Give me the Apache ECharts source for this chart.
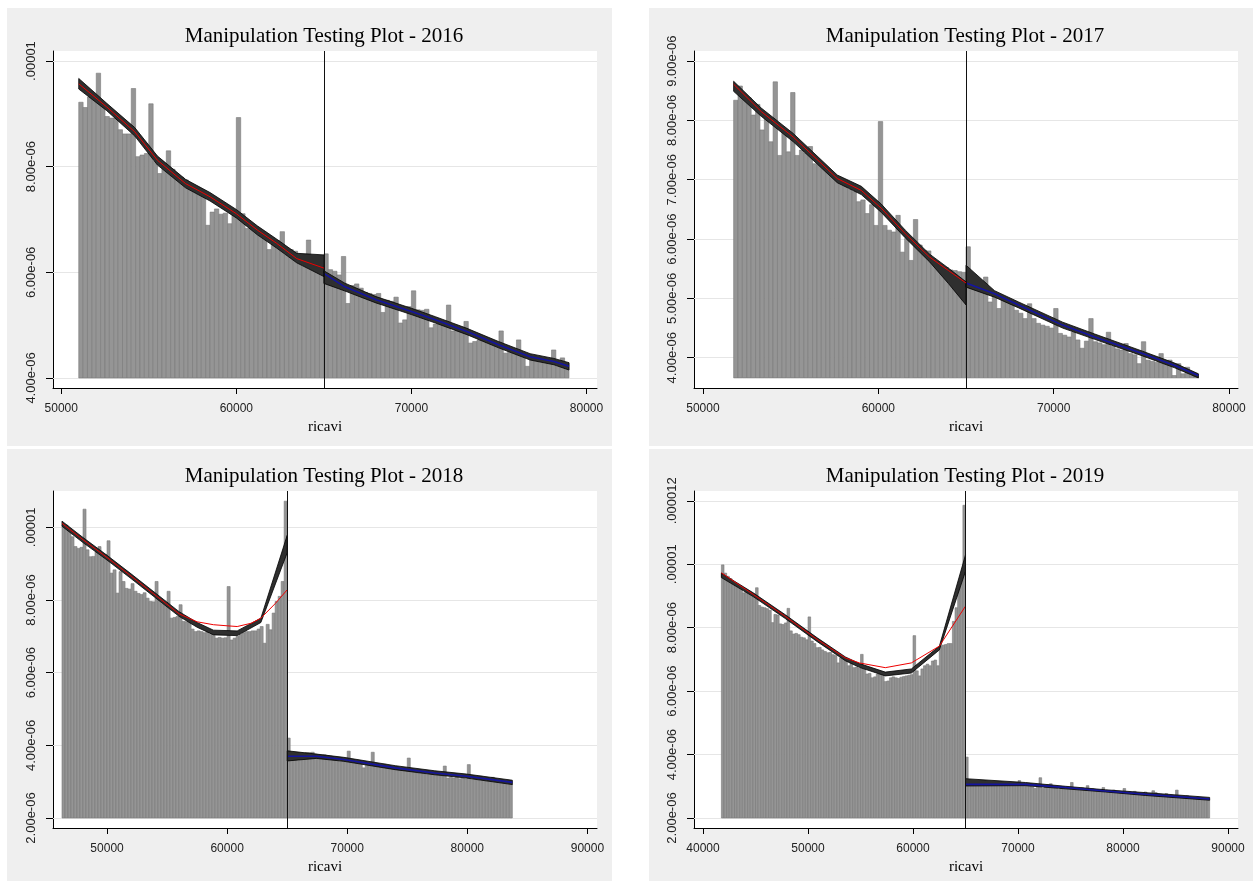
<!DOCTYPE html>
<html>
<head>
<meta charset="utf-8">
<script src="https://cdn.jsdelivr.net/npm/echarts@6/dist/echarts.min.js"></script>
<style>
  body { margin: 0; background: #fff; width: 1253px; height: 881px; position: relative; overflow: hidden; }
  .panel { position: absolute; }
</style>
</head>
<body>
<div id="p2016" class="panel" style="left:7px;top:8px;width:605px;height:438px"></div>
<div id="p2017" class="panel" style="left:649px;top:8px;width:604px;height:438px"></div>
<div id="p2018" class="panel" style="left:7px;top:449px;width:605px;height:432px"></div>
<div id="p2019" class="panel" style="left:649px;top:449px;width:604px;height:432px"></div>
<script>
// densities are in units of 1e-06
var binWidth = 250;
var cutoff = 65000;

// ---- 2016 ----
var hist2016Start = 51000;
var hist2016 = [9.22, 9.12, 9.32, 9.30, 9.77, 9.20, 8.95, 8.92, 8.92, 8.70,
  8.62, 8.62, 9.48, 8.19, 8.22, 8.25, 9.19, 8.10, 7.87, 8.05,
  8.30, 7.95, 7.85, 7.80, 7.75, 7.62, 7.62, 7.55, 7.55, 6.89,
  7.14, 7.20, 7.10, 7.12, 6.92, 7.11, 8.93, 7.11, 6.83, 6.85,
  6.74, 6.76, 6.72, 6.43, 6.61, 6.60, 6.77, 6.33, 6.43, 6.40,
  6.24, 6.11, 6.61, 6.15, 6.18, 6.12,
  6.35, 6.05, 6.02, 5.95, 6.30, 5.41, 5.75, 5.78, 5.70, 5.62,
  5.60, 5.58, 5.60, 5.24, 5.47, 5.45, 5.53, 5.04, 5.10, 5.35,
  5.65, 5.29, 5.28, 5.30, 4.95, 5.02, 5.03, 5.00, 5.38, 4.89,
  4.95, 4.96, 5.07, 4.66, 4.69, 4.72, 4.74, 4.70, 4.71, 4.65,
  4.89, 4.47, 4.50, 4.50, 4.72, 4.44, 4.22, 4.35, 4.36, 4.33,
  4.34, 4.30, 4.53, 4.22, 4.38, 4.28];
var fitL2016X = [51000, 52600, 54200, 55500, 57100, 58500, 60000, 61200, 62300, 63450, 65000];
var fitL2016 = [9.57, 9.13, 8.66, 8.12, 7.68, 7.43, 7.11, 6.80, 6.55, 6.26, 6.08];
var ciL2016Lo = [9.47, 9.06, 8.58, 8.03, 7.60, 7.35, 7.03, 6.71, 6.46, 6.18, 5.92];
var ciL2016Hi = [9.67, 9.20, 8.74, 8.20, 7.76, 7.51, 7.19, 6.88, 6.63, 6.36, 6.33];
var fitR2016X = [65000, 66170, 67980, 70000, 71370, 73170, 74980, 76780, 78140, 79000];
var fitR2016 = [5.98, 5.73, 5.48, 5.26, 5.10, 4.88, 4.63, 4.40, 4.31, 4.22];
var ciR2016Lo = [5.79, 5.65, 5.42, 5.20, 5.04, 4.82, 4.57, 4.34, 4.25, 4.15];
var ciR2016Hi = [6.03, 5.80, 5.54, 5.32, 5.16, 4.94, 4.69, 4.46, 4.37, 4.29];
var yTicks2016 = [4, 6, 8, 10];
var yLabels2016 = ['4.00e-06', '6.00e-06', '8.00e-06', '.00001'];
var xTicks2016 = [50000, 60000, 70000, 80000];

// ---- 2017 ----
var hist2017Start = 51750;
var hist2017 = [8.34, 8.58, 8.40, 8.38, 8.09, 8.27, 7.84, 8.09, 7.64, 8.65,
  7.41, 7.87, 7.47, 8.47, 7.41, 7.50, 7.45, 7.56, 7.27, 7.25,
  7.19, 7.15, 7.11, 7.05, 6.96, 6.90, 6.84, 6.80, 6.63, 6.66,
  6.43, 6.58, 6.23, 7.98, 6.23, 6.15, 6.12, 6.40, 5.78, 6.01,
  5.64, 6.33, 5.90, 5.81, 5.80, 5.65, 5.55, 5.53, 5.52, 5.48,
  5.47, 5.45, 5.44,
  5.87, 5.25, 5.22, 5.20, 5.36, 4.94, 5.06, 4.83, 5.03, 5.00,
  4.96, 4.80, 4.75, 4.66, 4.91, 4.66, 4.58, 4.55, 4.53, 4.50,
  4.83, 4.41, 4.38, 4.35, 4.43, 4.30, 4.16, 4.28, 4.66, 4.27,
  4.25, 4.22, 4.43, 4.19, 4.15, 4.13, 4.24, 4.07, 4.05, 3.90,
  4.27, 3.96, 3.94, 3.92, 4.07, 3.90, 3.96, 3.70, 3.90, 3.73,
  3.84, 3.70, 3.72];
var fitL2017X = [51750, 53320, 55150, 57660, 59030, 60170, 61540, 62910, 64000, 65000];
var fitL2017 = [8.61, 8.15, 7.72, 7.02, 6.82, 6.52, 6.09, 5.70, 5.47, 5.26];
var ciL2017Lo = [8.49, 8.07, 7.64, 6.95, 6.75, 6.45, 6.02, 5.62, 5.25, 4.89];
var ciL2017Hi = [8.66, 8.21, 7.78, 7.08, 6.89, 6.59, 6.15, 5.75, 5.51, 5.28];
var fitR2017X = [65000, 66630, 68000, 70510, 72340, 75070, 76900, 78250];
var fitR2017 = [5.26, 5.08, 4.89, 4.55, 4.35, 4.07, 3.87, 3.70];
var ciR2017Lo = [5.19, 5.02, 4.84, 4.50, 4.31, 4.03, 3.83, 3.66];
var ciR2017Hi = [5.56, 5.13, 4.94, 4.60, 4.40, 4.11, 3.91, 3.73];
var yTicks2017 = [4, 5, 6, 7, 8, 9];
var yLabels2017 = ['4.00e-06', '5.00e-06', '6.00e-06', '7.00e-06', '8.00e-06', '9.00e-06'];
var xTicks2017 = [50000, 60000, 70000, 80000];

// ---- 2018 ----
var hist2018Start = 46250;
var hist2018 = [10.06, 10.06, 9.95, 9.74, 9.47, 9.42, 9.45, 10.50, 9.38, 9.19,
  9.20, 9.33, 9.47, 9.24, 9.25, 9.63, 8.74, 8.83, 8.19, 8.78,
  8.51, 8.32, 8.30, 8.45, 8.24, 8.18, 8.15, 8.20, 8.05, 7.96,
  7.95, 8.51, 8.00, 7.90, 7.85, 8.24, 7.50, 7.52, 7.55, 7.87,
  7.41, 7.40, 7.38, 7.20, 7.13, 7.15, 7.13, 7.10, 7.13, 7.05,
  7.02, 6.95, 6.97, 6.95, 6.96, 8.37, 6.90, 6.95, 7.00, 7.05,
  7.10, 7.13, 7.13, 7.15, 7.15, 7.20, 7.27, 6.81, 7.33, 7.18,
  7.64, 7.96, 8.10, 8.51, 10.72,
  4.20, 3.76, 3.72, 3.58, 3.78, 3.75, 3.80, 3.80, 3.81, 3.76,
  3.74, 3.73, 3.74, 3.72, 3.70, 3.60, 3.65, 3.56, 3.58, 3.60,
  3.84, 3.56, 3.55, 3.55, 3.57, 3.38, 3.52, 3.50, 3.81, 3.47,
  3.46, 3.45, 3.48, 3.42, 3.40, 3.40, 3.42, 3.38, 3.37, 3.35,
  3.65, 3.29, 3.30, 3.24, 3.30, 3.22, 3.20, 3.20, 3.22, 3.18,
  3.17, 3.16, 3.43, 3.10, 3.12, 3.10, 3.14, 3.08, 3.10, 3.08,
  3.47, 3.06, 3.08, 3.05, 3.15, 3.04, 3.02, 3.03, 3.12, 3.00,
  3.00, 2.98, 2.98, 2.95, 2.93];
var fitL2018X = [46250, 48000, 50000, 52000, 54000, 56000, 57500, 58860, 60000, 60840, 62000, 62810, 64000, 65000];
var fitL2018 = [10.11, 9.66, 9.17, 8.66, 8.14, 7.62, 7.40, 7.32, 7.29, 7.27, 7.36, 7.50, 7.90, 8.28];
var ciL2018X = [46250, 48000, 50000, 52000, 54000, 56000, 57500, 58860, 60840, 62810, 65000];
var ciL2018Lo = [10.03, 9.58, 9.10, 8.59, 8.07, 7.55, 7.25, 7.04, 7.02, 7.38, 9.30];
var ciL2018Hi = [10.17, 9.72, 9.23, 8.72, 8.20, 7.68, 7.38, 7.17, 7.15, 7.50, 9.78];
var fitR2018X = [65000, 67420, 69720, 74000, 77290, 79930, 83750];
var fitR2018 = [3.70, 3.70, 3.61, 3.38, 3.24, 3.15, 2.98];
var ciR2018Lo = [3.57, 3.64, 3.56, 3.33, 3.19, 3.10, 2.92];
var ciR2018Hi = [3.85, 3.76, 3.67, 3.44, 3.30, 3.21, 3.04];
var yTicks2018 = [2, 4, 6, 8, 10];
var yLabels2018 = ['2.00e-06', '4.00e-06', '6.00e-06', '8.00e-06', '.00001'];
var xTicks2018 = [50000, 60000, 70000, 80000, 90000];

// ---- 2019 ----
var hist2019Start = 41750;
var hist2019 = [9.98, 9.72, 9.62, 9.55, 9.45, 9.40, 9.33, 9.28, 9.10, 9.15,
  9.12, 9.05, 9.05, 9.26, 8.70, 8.65, 8.63, 8.60, 8.55, 8.16,
  8.42, 8.40, 8.12, 8.10, 8.15, 8.61, 7.90, 7.80, 7.82, 7.78,
  7.70, 7.68, 7.62, 8.34, 7.58, 7.50, 7.37, 7.38, 7.30, 7.25,
  7.21, 7.22, 7.15, 7.12, 6.89, 7.05, 7.05, 7.02, 6.80, 6.95,
  6.74, 6.76, 6.72, 7.16, 6.70, 6.54, 6.56, 6.42, 6.45, 6.54,
  6.55, 6.50, 6.30, 6.32, 6.42, 6.45, 6.42, 6.40, 6.44, 6.46,
  6.48, 6.50, 6.52, 7.75, 6.64, 6.48, 6.70, 6.80, 6.85, 6.80,
  6.95, 6.98, 6.80, 7.42, 7.45, 7.47, 7.50, 7.50, 8.20, 8.63,
  9.30, 9.65, 11.86,
  3.92, 3.10, 3.12, 3.10, 3.12, 3.08, 3.10, 3.08, 3.10, 3.07,
  3.09, 3.06, 3.10, 3.05, 3.07, 3.05, 3.08, 3.05, 3.06, 3.04,
  3.18, 3.04, 3.05, 3.02, 3.06, 2.98, 2.93, 3.00, 3.27, 2.93,
  3.00, 3.05, 3.08, 2.96, 2.98, 2.90, 2.97, 2.96, 2.95, 2.94,
  3.12, 2.94, 2.93, 2.92, 2.95, 2.90, 3.02, 2.90, 2.92, 2.89,
  2.88, 2.87, 2.96, 2.86, 2.86, 2.85, 2.88, 2.84, 2.84, 2.83,
  2.93, 2.82, 2.82, 2.81, 2.84, 2.80, 2.79, 2.79, 2.82, 2.78,
  2.78, 2.86, 2.80, 2.76, 2.75, 2.74, 2.77, 2.72, 2.72, 2.71,
  2.88, 2.70, 2.69, 2.66, 2.70, 2.66, 2.65, 2.64, 2.66, 2.64,
  2.62, 2.62, 2.61];
var fitL2019X = [41750, 44780, 47830, 50880, 53550, 54890, 57360, 59840, 62510, 65000];
var fitL2019 = [9.73, 9.05, 8.36, 7.63, 7.05, 6.89, 6.74, 6.89, 7.42, 8.68];
var ciL2019Lo = [9.58, 8.98, 8.29, 7.56, 6.96, 6.75, 6.48, 6.57, 7.30, 9.78];
var ciL2019Hi = [9.72, 9.10, 8.41, 7.68, 7.08, 6.87, 6.60, 6.70, 7.42, 10.30];
var fitR2019X = [65000, 70710, 74520, 78340, 82150, 88250];
var fitR2019 = [3.06, 3.06, 2.96, 2.85, 2.75, 2.60];
var ciR2019Lo = [3.01, 3.02, 2.92, 2.82, 2.71, 2.56];
var ciR2019Hi = [3.24, 3.12, 3.00, 2.89, 2.80, 2.65];
var yTicks2019 = [2, 4, 6, 8, 10, 12];
var yLabels2019 = ['2.00e-06', '4.00e-06', '6.00e-06', '8.00e-06', '.00001', '.000012'];
var xTicks2019 = [40000, 50000, 60000, 70000, 80000, 90000];

function histSeries(start, heights, base) {
  return {
    type: 'custom',
    z: 2,
    silent: true,
    data: heights.map(function (h, i) { return [start + i * binWidth, start + (i + 1) * binWidth, h]; }),
    encode: { x: [0, 1], y: 2 },
    renderItem: function (params, api) {
      var top = api.coord([api.value(0), api.value(2)]);
      var bot = api.coord([api.value(1), base]);
      return {
        type: 'rect',
        shape: { x: top[0], y: top[1], width: bot[0] - top[0], height: bot[1] - top[1] },
        style: { fill: '#959595', stroke: '#787878', lineWidth: 0.6 }
      };
    }
  };
}

function bandSeries(xs, lo, hi) {
  return {
    type: 'custom',
    z: 3,
    silent: true,
    data: xs.map(function (x, i) { return [x, lo[i], hi[i]]; }),
    encode: { x: 0, y: [1, 2] },
    renderItem: function (params, api) {
      if (params.dataIndex !== 0) return null;
      var pts = [];
      for (var i = 0; i < xs.length; i++) pts.push(api.coord([xs[i], hi[i]]));
      for (var j = xs.length - 1; j >= 0; j--) pts.push(api.coord([xs[j], lo[j]]));
      return {
        type: 'polygon',
        shape: { points: pts },
        style: { fill: '#2f2f2f', stroke: '#000', lineWidth: 0.8 }
      };
    }
  };
}

function fitSeries(xs, ys, color, width) {
  return {
    type: 'line',
    z: 4,
    silent: true,
    showSymbol: false,
    symbol: 'none',
    data: xs.map(function (x, i) { return [x, ys[i]]; }),
    lineStyle: { color: color, width: width }
  };
}

function makeOption(p) {
  var bars = histSeries(p.histStart, p.hist, p.base);
  var left = fitSeries(p.fitLX, p.fitL, '#ee0000', 1);
  var right = fitSeries(p.fitRX, p.fitR, '#1414a0', 1.6);
  // horizontal grid lines at the y ticks, under the bars
  right.markLine = {
    silent: true, symbol: 'none', z: 1, animation: false,
    label: { show: false },
    lineStyle: { color: '#e6e6e6', width: 1, type: 'solid' },
    data: p.yTicks.map(function (v) { return { yAxis: v }; })
  };
  // cutoff line
  left.markLine = {
    silent: true, symbol: 'none', animation: false,
    label: { show: false },
    lineStyle: { color: '#111', width: 1, type: 'solid' },
    data: [{ xAxis: cutoff }]
  };
  return {
    backgroundColor: '#efefef',
    animation: false,
    title: {
      text: p.title,
      left: p.gridLeft + 266,
      top: p.titleTop,
      textAlign: 'center',
      textStyle: { fontFamily: 'Liberation Serif', fontSize: 21, fontWeight: 'normal', color: '#000' }
    },
    grid: { left: p.gridLeft, top: p.gridTop, width: 544, height: 337, show: true, backgroundColor: '#fff', borderWidth: 0 },
    xAxis: {
      type: 'value', min: p.xMin, max: p.xMax,
      name: 'ricavi', nameLocation: 'middle', nameGap: 28,
      nameTextStyle: { fontFamily: 'Liberation Serif', fontSize: 15, color: '#000' },
      axisLine: { onZero: false, lineStyle: { color: '#000', width: 1 } },
      axisTick: { customValues: p.xTicks, length: 6, lineStyle: { color: '#000' } },
      axisLabel: {
        customValues: p.xTicks, margin: 15, fontFamily: 'Liberation Sans', fontSize: 12, color: '#222',
        formatter: function (v) { return String(Math.round(v)); }
      },
      splitLine: { show: false }
    },
    yAxis: {
      type: 'value', min: p.yMin, max: p.yMax,
      axisLine: { show: true, onZero: false, lineStyle: { color: '#000', width: 1 } },
      axisTick: { show: true, customValues: p.yTicks, length: 7, lineStyle: { color: '#000' } },
      axisLabel: {
        customValues: p.yTicks, rotate: 90, margin: 15,
        fontFamily: 'Liberation Sans', fontSize: 13, color: '#222',
        formatter: function (v) {
          for (var i = 0; i < p.yTicks.length; i++) {
            if (Math.abs(p.yTicks[i] - v) < 1e-6) return p.yLabels[i];
          }
          return '';
        }
      },
      splitLine: { show: false }
    },
    series: [
      bars,
      bandSeries(p.ciLX, p.ciLLo, p.ciLHi),
      bandSeries(p.fitRX, p.ciRLo, p.ciRHi),
      left,
      right
    ]
  };
}

var panels = [
  { id: 'p2016', title: 'Manipulation Testing Plot - 2016', gridLeft: 46, gridTop: 43, titleTop: 13,
    xMin: 49530, xMax: 80600, yMin: 3.81, yMax: 10.19, base: 4.0,
    histStart: hist2016Start, hist: hist2016,
    fitLX: fitL2016X, fitL: fitL2016, ciLX: fitL2016X, ciLLo: ciL2016Lo, ciLHi: ciL2016Hi,
    fitRX: fitR2016X, fitR: fitR2016, ciRLo: ciR2016Lo, ciRHi: ciR2016Hi,
    yTicks: yTicks2016, yLabels: yLabels2016, xTicks: xTicks2016 },
  { id: 'p2017', title: 'Manipulation Testing Plot - 2017', gridLeft: 45, gridTop: 43, titleTop: 13,
    xMin: 49490, xMax: 80510, yMin: 3.49, yMax: 9.17, base: 3.66,
    histStart: hist2017Start, hist: hist2017,
    fitLX: fitL2017X, fitL: fitL2017, ciLX: fitL2017X, ciLLo: ciL2017Lo, ciLHi: ciL2017Hi,
    fitRX: fitR2017X, fitR: fitR2017, ciRLo: ciR2017Lo, ciRHi: ciR2017Hi,
    yTicks: yTicks2017, yLabels: yLabels2017, xTicks: xTicks2017 },
  { id: 'p2018', title: 'Manipulation Testing Plot - 2018', gridLeft: 46, gridTop: 42, titleTop: 12,
    xMin: 45500, xMax: 90800, yMin: 1.725, yMax: 11.0, base: 2.0,
    histStart: hist2018Start, hist: hist2018,
    fitLX: fitL2018X, fitL: fitL2018, ciLX: ciL2018X, ciLLo: ciL2018Lo, ciLHi: ciL2018Hi,
    fitRX: fitR2018X, fitR: fitR2018, ciRLo: ciR2018Lo, ciRHi: ciR2018Hi,
    yTicks: yTicks2018, yLabels: yLabels2018, xTicks: xTicks2018 },
  { id: 'p2019', title: 'Manipulation Testing Plot - 2019', gridLeft: 45, gridTop: 42, titleTop: 12,
    xMin: 39140, xMax: 90950, yMin: 1.685, yMax: 12.31, base: 2.0,
    histStart: hist2019Start, hist: hist2019,
    fitLX: fitL2019X, fitL: fitL2019, ciLX: fitL2019X, ciLLo: ciL2019Lo, ciLHi: ciL2019Hi,
    fitRX: fitR2019X, fitR: fitR2019, ciRLo: ciR2019Lo, ciRHi: ciR2019Hi,
    yTicks: yTicks2019, yLabels: yLabels2019, xTicks: xTicks2019 }
];

panels.forEach(function (p) {
  var chart = echarts.init(document.getElementById(p.id), null, { renderer: 'canvas' });
  chart.setOption(makeOption(p));
});
</script>
</body>
</html>
